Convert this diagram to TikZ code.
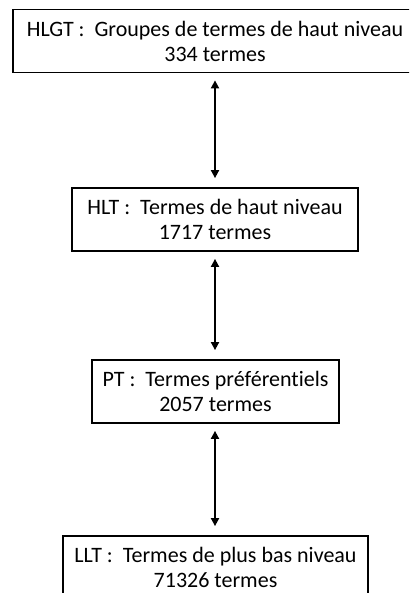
\documentclass[tikz,border=0pt]{standalone}
\usepackage{fontspec}
\setmainfont[Ligatures={NoCommon}]{Carlito}
\usetikzlibrary{arrows.meta}
\begin{document}
\begin{tikzpicture}[x=1pt,y=-1pt,
  level/.style={draw, line width=1.8pt, align=center, inner sep=0pt,
    font=\fontsize{22}{25}\selectfont, minimum height=63pt},
  link/.style={{Triangle[length=8pt,width=8pt]}-{Triangle[length=8pt,width=8pt]},
    line width=1.8pt, shorten <=7pt, shorten >=9pt}]
\useasboundingbox (0,0) rectangle (409,593);
\clip (0,0) rectangle (409,593);
\fill[white] (0,0) rectangle (409,593);
% the four levels of the hierarchy
\node[level, minimum width=404pt] (hlgt) at (215,41)
  {HLGT :\ \ Groupes de termes de haut niveau\\334 termes};
\node[level, minimum width=286pt] (hlt) at (215,219.5)
  {HLT :\ \ Termes de haut niveau\\1717 termes};
\node[level, minimum width=247pt] (pt) at (215.5,391.5)
  {PT :\ \ Termes préférentiels\\2057 termes};
\node[level, minimum width=305pt] (llt) at (215.5,567.5)
  {LLT :\ \ Termes de plus bas niveau\\71326 termes};
% two-way links between neighbouring levels
\draw[link] (hlgt.south) -- (hlgt.south |- hlt.north);
\draw[link] (hlt.south) -- (hlt.south |- pt.north);
\draw[link] (pt.south -| hlt.south) -- (hlt.south |- llt.north);
\end{tikzpicture}
\end{document}
